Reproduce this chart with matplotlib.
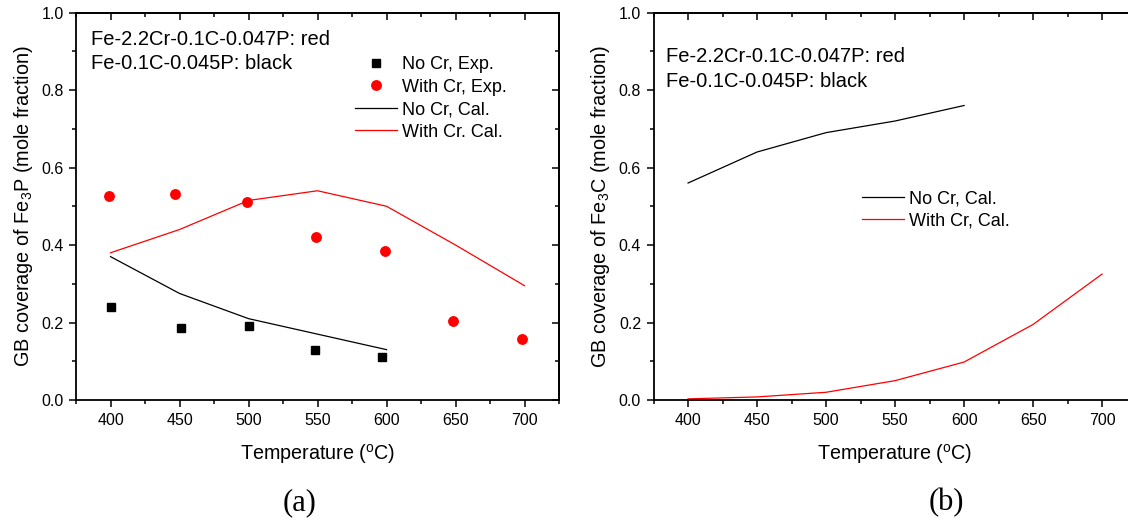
import matplotlib
matplotlib.use("Agg")
import matplotlib.pyplot as plt
from matplotlib.ticker import MultipleLocator, FormatStrFormatter

plt.rcParams["font.family"] = ["Liberation Sans", "DejaVu Sans"]

# (a) Fe3P coverage
exp_nocr_T = [400, 451, 500, 548, 597]
exp_nocr = [0.24, 0.185, 0.19, 0.13, 0.11]
exp_cr_T = [399, 447, 499, 549, 599, 648, 698]
exp_cr = [0.527, 0.532, 0.51, 0.421, 0.385, 0.204, 0.158]
cal_nocr_T = [400, 450, 500, 550, 600]
cal_nocr_p = [0.37, 0.275, 0.21, 0.17, 0.13]
cal_cr_T = [400, 450, 500, 550, 600, 650, 700]
cal_cr_p = [0.38, 0.44, 0.515, 0.54, 0.50, 0.40, 0.295]

# (b) Fe3C coverage
cal_nocr_c = [0.56, 0.64, 0.69, 0.72, 0.76]
cal_cr_c = [0.003, 0.008, 0.02, 0.05, 0.098, 0.195, 0.325]

comp_text = "Fe-2.2Cr-0.1C-0.047P: red\nFe-0.1C-0.045P: black"

fig = plt.figure(figsize=(11.28, 5.21), dpi=100)
ax1 = fig.add_axes([0.0674, 0.2322, 0.4282, 0.7438])
ax2 = fig.add_axes([0.5794, 0.2322, 0.4282, 0.7438])


def style_axes(ax):
    ax.set_xlim(375, 725)
    ax.set_ylim(0, 1.0)
    ax.xaxis.set_major_locator(MultipleLocator(50))
    ax.xaxis.set_minor_locator(MultipleLocator(25))
    ax.yaxis.set_major_locator(MultipleLocator(0.2))
    ax.yaxis.set_minor_locator(MultipleLocator(0.1))
    ax.yaxis.set_major_formatter(FormatStrFormatter("%.1f"))
    for s in ax.spines.values():
        s.set_linewidth(1.3)
    ax.tick_params(which="both", direction="out", width=1.1, labelsize=11.5,
                   pad=4)
    ax.tick_params(which="major", length=5)
    ax.tick_params(which="minor", length=3)
    top = ax.secondary_xaxis("top")
    top.xaxis.set_major_locator(MultipleLocator(50))
    top.xaxis.set_minor_locator(MultipleLocator(25))
    top.tick_params(which="both", direction="in", labeltop=False, width=1.1)
    top.tick_params(which="major", length=5)
    top.tick_params(which="minor", length=3)
    top.spines["top"].set_linewidth(1.3)
    right = ax.secondary_yaxis("right")
    right.yaxis.set_major_locator(MultipleLocator(0.2))
    right.yaxis.set_minor_locator(MultipleLocator(0.1))
    right.tick_params(which="both", direction="in", labelright=False, width=1.1)
    right.tick_params(which="major", length=5)
    right.tick_params(which="minor", length=3)
    right.spines["right"].set_linewidth(1.3)
    ax.set_xlabel("Temperature ($\\mathregular{^oC}$)", fontsize=14.2)
    ax.xaxis.set_label_coords(0.5, -0.108)


style_axes(ax1)
ax1.plot(exp_nocr_T, exp_nocr, "s", color="black", ms=6, label="No Cr, Exp.")
ax1.plot(exp_cr_T, exp_cr, "o", color="red", ms=6.8, label="With Cr, Exp.")
ax1.plot(cal_nocr_T, cal_nocr_p, "-", color="black", lw=0.9, label="No Cr, Cal.")
ax1.plot(cal_cr_T, cal_cr_p, "-", color="red", lw=0.9, label="With Cr. Cal.")
ax1.set_ylabel("GB coverage of Fe$\\mathregular{_3}$P (mole fraction)", fontsize=14.3)
ax1.yaxis.set_label_coords(-0.085, 0.5)
ax1.text(0.031, 0.954, comp_text, transform=ax1.transAxes, fontsize=14.5,
         va="top", ha="left", linespacing=1.32)
ax1.legend(loc="upper left", bbox_to_anchor=(0.578, 0.887), frameon=False,
           fontsize=13, handlelength=2.3, handletextpad=0.3,
           labelspacing=0.3, borderaxespad=0, borderpad=0)

style_axes(ax2)
ax2.plot(cal_nocr_T, cal_nocr_c, "-", color="black", lw=0.9, label="No Cr, Cal.")
ax2.plot(cal_cr_T, cal_cr_c, "-", color="red", lw=0.9, label="With Cr, Cal.")
ax2.set_ylabel("GB coverage of Fe$\\mathregular{_3}$C (mole fraction)", fontsize=14.3)
ax2.yaxis.set_label_coords(-0.087, 0.5)
ax2.text(0.026, 0.912, comp_text, transform=ax2.transAxes, fontsize=14.5,
         va="top", ha="left", linespacing=1.45)
ax2.legend(loc="upper left", bbox_to_anchor=(0.4315, 0.54), frameon=False,
           fontsize=13, handlelength=2.3, handletextpad=0.3,
           labelspacing=0.25, borderaxespad=0, borderpad=0)

fig.text(300 / 1128, 1 - 503 / 521, "(a)", ha="center", va="center",
         fontsize=22, family=["Liberation Serif", "DejaVu Serif"])
fig.text(946 / 1128, 1 - 503 / 521, "(b)", ha="center", va="center",
         fontsize=22, family=["Liberation Serif", "DejaVu Serif"])

fig.savefig("out.png", dpi=100)
